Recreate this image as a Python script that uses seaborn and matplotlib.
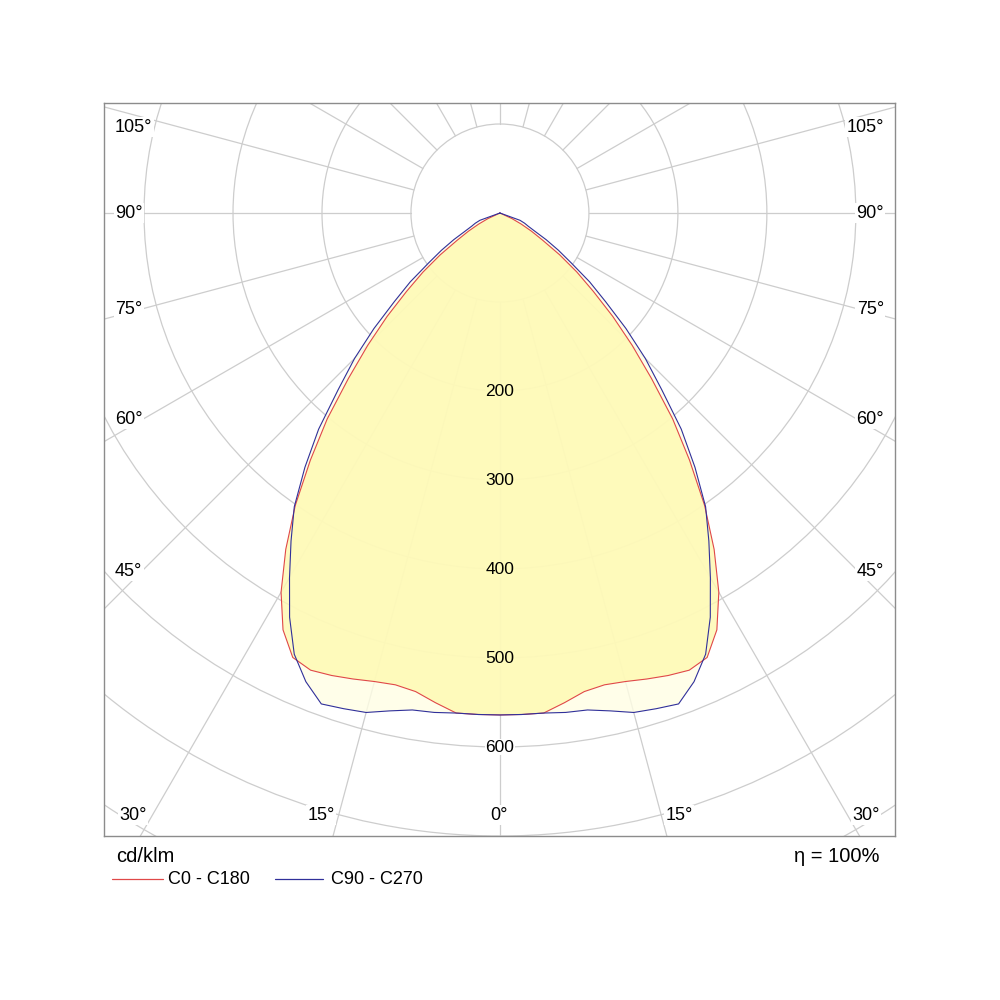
import numpy as np
import pandas as pd
import matplotlib.pyplot as plt
import seaborn as sns
from matplotlib.patches import Circle
from matplotlib.lines import Line2D

# Lichtstärkeverteilung (cd/klm), Winkel gamma ab Nadir, Schritt 2.5°
gamma = [0, 2.5, 5, 7.5, 10, 12.5, 15, 17.5, 20, 22.5, 25, 27.5, 30, 32.5, 35, 37.5,
         40, 42.5, 45, 47.5, 50, 52.5, 55, 57.5, 60, 62.5, 65, 67.5, 70, 72.5, 75,
         80, 85, 90]
c0_c180 = [564, 564, 564, 555, 546, 543, 545, 549, 553, 556, 551, 528, 492, 448, 401, 350,
           302, 252, 210, 172, 137, 109, 82, 57, 41, 27, 15, 0, 0, 0, 0,
           0, 0, 0]
c90_c270 = [564, 564, 564, 566, 567, 573, 581, 584, 587, 570, 547, 512, 473, 437, 403, 360,
            317, 269, 231, 192, 155, 127, 98, 78, 60, 44, 35, 30, 24, 0, 0,
            0, 0, 0]

ring_values = [100, 200, 300, 400, 500, 600, 700, 800]
ring_labels = [200, 300, 400, 500, 600]
spoke_angles = list(range(0, 360, 15))
eta_text = 'η = 100%'
unit_text = 'cd/klm'


def profile(r_half, name):
    # linke Hälfte gespiegelt (C180 / C270), rechte Hälfte (C0 / C90)
    g = [-a for a in gamma[::-1]] + gamma[1:]
    r = r_half[::-1] + r_half[1:]
    g = np.radians(g)
    r = np.array(r, dtype=float)
    return pd.DataFrame({'x': r * np.sin(g), 'y': -r * np.cos(g), 'curve': name})


df = pd.concat([profile(c0_c180, 'C0 - C180'), profile(c90_c270, 'C90 - C270')])

sns.set_style('white')
plt.rcParams['font.family'] = ['Liberation Sans', 'DejaVu Sans']
plt.rcParams['text.color'] = 'black'

fig = plt.figure(figsize=(10, 10), dpi=100)
ax = fig.add_axes([0.104, 0.164, 0.791, 0.733])
ax.set_xlim(-445, 444)
ax.set_ylim(-700, 123.6)

# Raster
grid_c = '#cdcdcd'
for rv in ring_values:
    ax.add_patch(Circle((0, 0), rv, fill=False, ec=grid_c, lw=0.9, zorder=1))
for a in spoke_angles:
    t = np.radians(a)
    ax.plot([100 * np.sin(t), 1200 * np.sin(t)], [-100 * np.cos(t), -1200 * np.cos(t)],
            color=grid_c, lw=0.9, zorder=1)

# Flächen
blue = df[df['curve'] == 'C90 - C270']
red = df[df['curve'] == 'C0 - C180']
ax.fill(blue['x'], blue['y'], color='#fffee4', alpha=0.8, lw=0, zorder=2)
ax.fill(red['x'], red['y'], color='#fef9b0', alpha=0.8, lw=0, zorder=3)

sns.lineplot(data=df, x='x', y='y', hue='curve', sort=False, estimator=None,
             palette={'C0 - C180': '#e04848', 'C90 - C270': '#30309a'},
             lw=0.8, legend=False, ax=ax, zorder=4)

# Ringbeschriftung
for v in ring_labels:
    fc = 'white' if v >= 600 else '#fefbbb'
    ax.text(0, -v, str(v), ha='center', va='center', fontsize=12.5, zorder=5,
            bbox=dict(boxstyle='square,pad=0.05', fc=fc, ec='none'))

# Winkelbeschriftung (Pixelpositionen im Bild)
angle_labels = [
    ('105°', 115, 127, 'left'), ('90°', 115, 213, 'left'), ('75°', 115, 309, 'left'),
    ('60°', 115, 419, 'left'), ('45°', 115, 571, 'left'), ('30°', 119, 815, 'left'),
    ('105°', 884, 127, 'right'), ('90°', 884, 213, 'right'), ('75°', 884, 309, 'right'),
    ('60°', 884, 419, 'right'), ('45°', 884, 571, 'right'), ('30°', 880, 815, 'right'),
    ('15°', 321, 815, 'center'), ('0°', 499, 815, 'center'), ('15°', 679, 815, 'center'),
]
for txt, px, py, ha in angle_labels:
    ax.text((px - 104) / 791, (836 - py) / 733, txt, transform=ax.transAxes,
            ha=ha, va='center', fontsize=13, zorder=6,
            bbox=dict(boxstyle='square,pad=0.08', fc='white', ec='none'))

ax.set_xticks([])
ax.set_yticks([])
ax.set_xlabel('')
ax.set_ylabel('')
for s in ax.spines.values():
    s.set_color('#8c8c8c')
    s.set_linewidth(1.0)
    s.set_zorder(10)

# Texte und Legende unter dem Diagramm
fig.text(0.116, 1 - 0.857, unit_text, ha='left', va='center', fontsize=14.5)
fig.text(0.880, 1 - 0.857, eta_text, ha='right', va='center', fontsize=14.5)

fig.add_artist(Line2D([0.112, 0.163], [1 - 0.879, 1 - 0.879], color='#e04848', lw=0.9))
fig.text(0.168, 1 - 0.880, 'C0 - C180', ha='left', va='center', fontsize=13)
fig.add_artist(Line2D([0.275, 0.323], [1 - 0.879, 1 - 0.879], color='#30309a', lw=0.9))
fig.text(0.331, 1 - 0.880, 'C90 - C270', ha='left', va='center', fontsize=13)

fig.savefig('out.png', dpi=100, facecolor='white')
plt.close()
